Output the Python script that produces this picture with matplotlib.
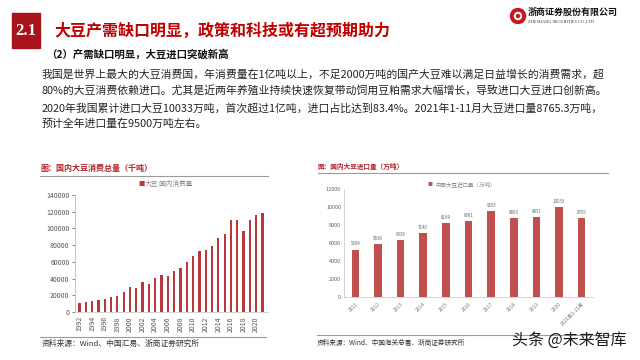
import numpy as np
import matplotlib
matplotlib.use('Agg')
import matplotlib.pyplot as plt
from matplotlib.patches import Rectangle, Ellipse

plt.rcParams['font.family'] = ['Noto Sans CJK SC', 'DejaVu Sans']

# data
years_cons = list(range(1992, 2022))
cons = [11000, 12500, 13000, 14000, 16000, 17500, 19000, 24000, 29500, 28500,
        35500, 34000, 41000, 44500, 43500, 49500, 53000, 60000, 67500, 73500,
        74000, 79000, 88500, 93000, 110000, 110000, 96500, 110000, 116000, 119000]

imp_labels = ['2011', '2012', '2013', '2014', '2015', '2016', '2017', '2018',
              '2019', '2020', '2021年1-11月']
imp = [5264, 5838, 6338, 7140, 8169, 8391, 9553, 8803, 8851, 10033, 8765]

title = '大豆产需缺口明显，政策和科技或有超预期助力'
subtitle = '（2）产需缺口明显，大豆进口突破新高'
para = ['我国是世界上最大的大豆消费国，年消费量在1亿吨以上，不足2000万吨的国产大豆难以满足日益增长的消费需求，超',
        '80%的大豆消费依赖进口。尤其是近两年养殖业持续快速恢复带动饲用豆粕需求大幅增长，导致进口大豆进口创新高。',
        '2020年我国累计进口大豆10033万吨，首次超过1亿吨，进口占比达到83.4%。2021年1-11月大豆进口量8765.3万吨，',
        '预计全年进口量在9500万吨左右。']

W, H = 640, 360
fig = plt.figure(figsize=(6.4, 3.6), dpi=100)

def fx(x):
    return x / W

def fy(y):
    return 1 - y / H

def txt(x, y, s, **kw):
    fig.text(fx(x), fy(y), s, **kw)

def hline(x0, x1, y, c='#9a9a9a', lw=0.8):
    fig.add_artist(plt.Line2D([fx(x0), fx(x1)], [fy(y), fy(y)], color=c, lw=lw,
                              transform=fig.transFigure))

def dot(x, y, d, c):
    fig.add_artist(Ellipse((fx(x), fy(y)), d / W, d / H, color=c,
                           transform=fig.transFigure))

# header
fig.add_artist(Rectangle((fx(12), fy(48)), fx(28), 35 / H, color='#A8141C',
                         transform=fig.transFigure))
txt(26, 31, '2.1', color='white', fontsize=12, fontweight='bold',
    family='Liberation Serif', ha='center', va='center')
txt(54, 31, title, color='#C00000', fontsize=11.5, fontweight='bold', va='center')
txt(46, 54, subtitle, color='#111111', fontsize=7.5, fontweight='bold', va='center')

# logo
dot(518, 16, 15, '#C8161D')
dot(518, 16, 7, 'white')
dot(518, 16, 3, '#C8161D')
txt(528, 12, '浙商证券股份有限公司', color='#111111', fontsize=6.5, fontweight='bold', va='center')
txt(528, 22, 'ZHESHANG SECURITIES CO.,LTD', color='#333333', fontsize=3.2,
    family='Liberation Serif', va='center')

# paragraph
for y, line in zip([74, 91, 108, 124], para):
    txt(42, y, line, color='#222222', fontsize=7.8, va='center')

# left chart
txt(40, 168, '图：国内大豆消费总量（千吨）', color='#B5232B', fontsize=5.8,
    fontweight='bold', va='center')
hline(40, 268, 176)
txt(138, 184, '■', color='#B8373A', fontsize=4.5, va='center')
txt(145, 184, '大豆:国内消费量', color='#8a8a8a', fontsize=4.8, va='center')

ax1 = fig.add_axes([fx(75), fy(312), (268 - 75) / W, (312 - 195) / H])
x1 = np.arange(len(cons))
ax1.bar(x1, cons, width=0.36, color='#B8373A')
ax1.set_xlim(-0.71, 29.87)
ax1.set_ylim(0, 140000)
ax1.set_yticks(range(0, 140001, 20000))
ax1.set_xticks(x1[::2])
ax1.set_xticklabels([str(y) for y in years_cons[::2]], rotation=90)
ax1.tick_params(axis='y', labelsize=5, colors='#555555', length=2, width=0.5, pad=2)
ax1.tick_params(axis='x', labelsize=5, colors='#555555', length=0, pad=3)
for s in ['top', 'right']:
    ax1.spines[s].set_visible(False)
ax1.spines['left'].set_color('#bbbbbb')
ax1.spines['left'].set_linewidth(0.6)
ax1.spines['bottom'].set_color('#cccccc')
ax1.spines['bottom'].set_linewidth(0.6)
ax1.patch.set_alpha(0)

hline(40, 266, 337)
txt(42, 344, '资料来源：Wind、中国汇易、浙商证券研究所', color='#333333', fontsize=5.6, va='center')

# right chart
txt(318, 166, '图：国内大豆进口量（万吨）', color='#B5232B', fontsize=4.8,
    fontweight='bold', va='center')
hline(318, 608, 173)
txt(428, 184, '■', color='#C0504D', fontsize=3.6, va='center')
txt(435, 184, '中国大豆进口量（万吨）', color='#8a8a8a', fontsize=4, va='center')

ax2 = fig.add_axes([fx(344), fy(297), (593 - 344) / W, (297 - 189) / H])
x2 = np.arange(len(imp))
ax2.bar(x2, imp, width=0.33, color='#C0504D')
for xi, v in zip(x2, imp):
    ax2.text(xi, v + 350, str(v), ha='center', va='bottom', fontsize=3.2, color='#666666')
ax2.set_xlim(-0.5, 10.5)
ax2.set_ylim(0, 12000)
ax2.set_yticks(range(0, 12001, 2000))
ax2.set_xticks(x2)
ax2.set_xticklabels(imp_labels, rotation=45, ha='right', rotation_mode='anchor')
ax2.tick_params(axis='y', labelsize=4, colors='#666666', length=0, pad=2)
ax2.tick_params(axis='x', labelsize=3.6, colors='#777777', length=0, pad=3)
for s in ['top', 'right']:
    ax2.spines[s].set_visible(False)
ax2.spines['left'].set_color('#cccccc')
ax2.spines['left'].set_linewidth(0.6)
ax2.spines['bottom'].set_color('#cccccc')
ax2.spines['bottom'].set_linewidth(0.6)
ax2.patch.set_alpha(0)

hline(317, 612, 335)
txt(317, 343, '资料来源：Wind、中国海关总署、浙商证券研究所', color='#333333', fontsize=4.8, va='center')

# watermark
txt(512, 340, '头条 @未来智库', color='#1a1a1a', fontsize=11.5, va='center')

fig.savefig('out.png', dpi=100)
